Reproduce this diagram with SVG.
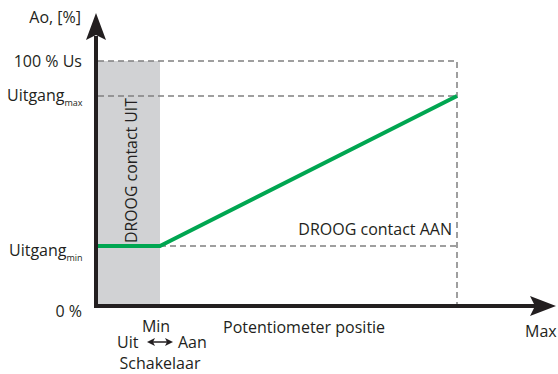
<svg xmlns="http://www.w3.org/2000/svg" width="558" height="374" viewBox="0 0 558 374">
<style>
text{font-family:"Open Sans","DejaVu Sans",sans-serif;font-size:16px;fill:#231f20}
.sub{font-size:9px}
.dash{stroke:#808080;stroke-width:1.5;stroke-dasharray:6 4;fill:none}
.axis{stroke:#231f20;stroke-width:4;fill:none}
</style>
<g id="shade"><rect x="98" y="61" width="62" height="243" fill="#d1d2d4"/></g>
<g id="connectors">
<path class="dash" d="M98,61 H457 V305"/>
<path class="dash" d="M98,96 H457"/>
<path class="dash" d="M160,246 H457"/>
<path d="M98,246 H160 L457,96" stroke="#00a651" stroke-width="4" fill="none" stroke-linejoin="round"/>
<path class="axis" d="M96,36 V306 H536"/>
<path d="M96,13 L106,40 L96,35 L86,40 Z" fill="#231f20"/>
<path d="M556,306 L530,296 L535,306 L530,316 Z" fill="#231f20"/>
<path d="M151,342 H169" stroke="#231f20" stroke-width="1.5"/>
<path d="M147,342 L155,338 L153,342 L155,346 Z M173,342 L165,338 L167,342 L165,346 Z" fill="#231f20"/>
</g>
<g id="labels">
<text x="81" y="23" text-anchor="end">Ao, [%]</text>
<text x="82" y="67" text-anchor="end">100 % Us</text>
<text x="7" y="101">Uitgang<tspan class="sub" dy="5">max</tspan></text>
<text x="9" y="256">Uitgang<tspan class="sub" dy="5">min</tspan></text>
<text x="82" y="317" text-anchor="end">0 %</text>
<text x="156" y="332" text-anchor="middle">Min</text>
<text x="117" y="348">Uit</text>
<text x="178" y="348">Aan</text>
<text x="160" y="369" text-anchor="middle">Schakelaar</text>
<text x="223" y="333">Potentiometer positie</text>
<text x="525" y="337">Max</text>
<text x="452" y="235" text-anchor="end">DROOG contact AAN</text>
<text transform="translate(137,243) rotate(-90)" textLength="145" lengthAdjust="spacingAndGlyphs">DROOG contact UIT</text>
</g>
</svg>
